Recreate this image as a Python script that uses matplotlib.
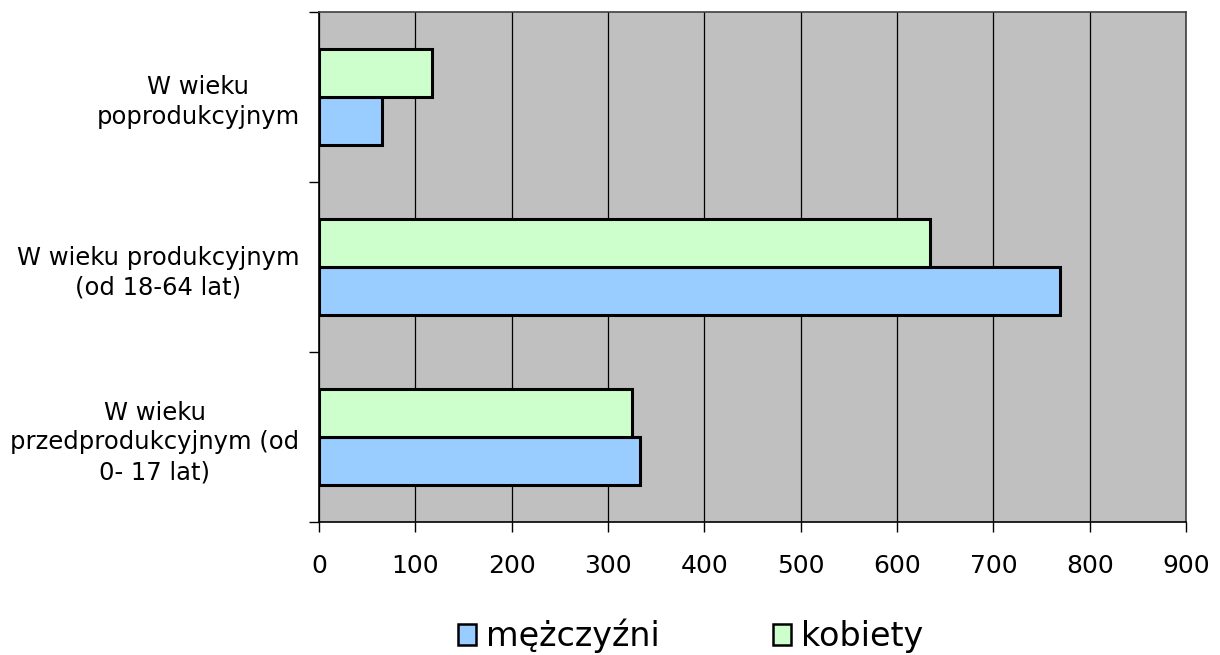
import matplotlib.pyplot as plt
import numpy as np
from matplotlib.patches import Patch

# data
categories = ['W wieku\nprzedprodukcyjnym (od\n0- 17 lat)',
              'W wieku produkcyjnym\n(od 18-64 lat)',
              'W wieku\npoprodukcyjnym']
men = [333, 769, 65]
women = [325, 634, 117]
series_names = ['mężczyźni', 'kobiety']
x_ticks = [0, 100, 200, 300, 400, 500, 600, 700, 800, 900]

plt.rcParams['font.family'] = ['DejaVu Sans']
fig = plt.figure(figsize=(12.2, 6.55), dpi=100)
ax = fig.add_axes([319 / 1220, 1 - 522 / 655, 867 / 1220, 510 / 655])
ax.set_facecolor('#C0C0C0')

y = np.arange(len(categories))
h = 0.285
ax.barh(y - h / 2, men, height=h, color='#99CCFF', edgecolor='black', linewidth=2.2, zorder=3)
ax.barh(y + h / 2, women, height=h, color='#CCFFCC', edgecolor='black', linewidth=2.2, zorder=3)

ax.set_xlim(0, 900)
ax.set_ylim(-0.5, 2.5)
ax.set_xticks(x_ticks)
ax.tick_params(axis='x', labelsize=18, length=7, pad=16, width=1)
ax.xaxis.grid(True, color='black', linewidth=0.9, zorder=1)

# category boundaries as major ticks, labels on minor ticks
ax.set_yticks([-0.5, 0.5, 1.5, 2.5])
ax.set_yticklabels([])
ax.set_yticks(y, minor=True)
ax.set_yticklabels(categories, minor=True, fontsize=17.5, multialignment='center', linespacing=1.3)
ax.tick_params(axis='y', which='major', length=7, width=1)
ax.tick_params(axis='y', which='minor', length=0, pad=14)

for side in ['top', 'right']:
    ax.spines[side].set_color('#404040')
    ax.spines[side].set_linewidth(1.2)
ax.spines['left'].set_linewidth(1.2)
ax.spines['bottom'].set_linewidth(1.2)

handles = [Patch(facecolor='#99CCFF', edgecolor='black', linewidth=1.8),
           Patch(facecolor='#CCFFCC', edgecolor='black', linewidth=1.8)]
fig.legend(handles, series_names, loc='center', bbox_to_anchor=(0.566, 1 - 636 / 655),
           ncol=2, frameon=False, fontsize=24, handlelength=0.55, handleheight=0.55,
           handletextpad=0.3, columnspacing=3.4)

fig.savefig('out.png', dpi=100)
